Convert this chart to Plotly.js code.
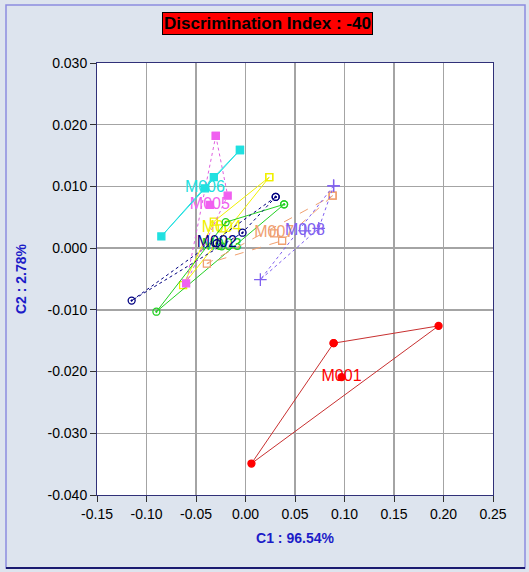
<!DOCTYPE html>
<html>
<head>
<meta charset="utf-8">
<script src="https://cdn.plot.ly/plotly-3.0.1.min.js"></script>
<style>html,body{margin:0;padding:0;background:#dde4ee;}#chart{width:529px;height:572px;}</style>
</head>
<body>
<div id="chart"></div>
<script>
// ---- data ----
const groupNames = ['M001','M002','M003','M004','M005','M006','M007','M008'];
const groupColors = ['#ff0000','#000080','#22d022','#f0f000','#f060f0','#20e0e0','#f0a070','#8060f0'];
const lineColors = ['#c83030','#000080','#22d022','#f0f000','#e060e0','#20e0e0','#f0a070','#8060f0'];
const replicateX = [
  [0.089, 0.195, 0.006],
  [0.0305, -0.115, -0.003],
  [0.039, -0.090, -0.020],
  [0.024, -0.063, -0.032],
  [-0.030, -0.018, -0.060],
  [-0.0056, -0.085, -0.032],
  [0.088, 0.037, -0.039],
  [0.089, 0.015, 0.074]
];
const replicateY = [
  [-0.0154, -0.0126, -0.0349],
  [0.0083, -0.0085, 0.0025],
  [0.0071, -0.0103, 0.0042],
  [0.0115, -0.0060, 0.0043],
  [0.0182, 0.0085, -0.0057],
  [0.0159, 0.0019, 0.0115],
  [0.0085, 0.0012, -0.0025],
  [0.0101, -0.0051, 0.0032]
];
const centroidX = [0.097, -0.029, -0.024, -0.024, -0.036, -0.041, 0.029, 0.060];
const centroidY = [-0.0209, 0.0008, 0.0003, 0.0032, 0.0070, 0.0097, 0.0024, 0.0028];
const markerSymbols = ['circle','circle-open-dot','circle-open-dot','square-open','square','square','square-open','cross-thin-open'];
const lineDash = ['solid','dot','solid','solid','dot','solid','dash','dot'];
const xTicks = [-0.15,-0.10,-0.05,0.00,0.05,0.10,0.15,0.20,0.25];
const yTicks = [0.030,0.020,0.010,0.000,-0.010,-0.020,-0.030,-0.040];
const titleText = 'Discrimination Index : -40';
const xTitle = 'C1 : 96.54%';
const yTitle = 'C2 : 2.78%';

// ---- traces ----
const traces = [];
const order = [0,3,2,1,6,7,4,5];
order.forEach(i => {
  const xs = replicateX[i].concat([replicateX[i][0]]);
  const ys = replicateY[i].concat([replicateY[i][0]]);
  const sym = markerSymbols[i];
  const mk = {symbol: sym, size: sym.indexOf('cross') >= 0 ? 9 : 7, color: groupColors[i],
              line: {color: groupColors[i], width: 1.3}};
  traces.push({
    x: xs, y: ys, type: 'scatter', mode: 'lines+markers',
    line: {color: lineColors[i], width: 1, dash: lineDash[i]},
    marker: mk, hoverinfo: 'skip'
  });
  traces.push({
    x: [centroidX[i]], y: [centroidY[i]], type: 'scatter', mode: 'markers+text',
    text: [groupNames[i]], textposition: 'middle center',
    textfont: {family: 'Liberation Sans, Arial, sans-serif', size: 16, color: groupColors[i]},
    marker: mk, hoverinfo: 'skip'
  });
});

const PL = 97, PR = 493, PT = 63, PB = 495;
const W = PR - PL, H = PB - PT;
const px = v => (v - PL) / W;
const py = v => (PB - v) / H;

const layout = {
  width: 529, height: 572,
  margin: {l: PL, r: 529 - PR, t: PT, b: 572 - PB, pad: 0},
  paper_bgcolor: '#dde4ee', plot_bgcolor: '#ffffff',
  showlegend: false,
  font: {family: 'Liberation Sans, Arial, sans-serif', size: 12, color: '#000'},
  xaxis: {
    range: [-0.15, 0.25], tickvals: xTicks, ticktext: xTicks.map(v => v.toFixed(2)),
    showgrid: true, gridcolor: '#a4a4a4', gridwidth: 1.5, zeroline: false,
    showline: true, linecolor: '#303078', linewidth: 1, mirror: true,
    ticks: 'outside', ticklen: 6, tickcolor: '#303030', tickwidth: 1,
    tickfont: {size: 14, color: '#000'},
    title: {text: xTitle, font: {size: 14, color: '#1c1cc8', family: 'Liberation Sans, Arial, sans-serif', weight: 'bold'}, standoff: 12},
    automargin: false, fixedrange: true
  },
  yaxis: {
    range: [-0.04, 0.03], tickvals: yTicks, ticktext: yTicks.map(v => v.toFixed(3)),
    showgrid: true, gridcolor: '#a4a4a4', gridwidth: 1.5, zeroline: false,
    showline: true, linecolor: '#303078', linewidth: 1, mirror: true,
    ticks: 'outside', ticklen: 6, tickcolor: '#303030', tickwidth: 1,
    tickfont: {size: 14, color: '#000'},
    title: {text: yTitle, font: {size: 14, color: '#1c1cc8', family: 'Liberation Sans, Arial, sans-serif', weight: 'bold'}, standoff: 17},
    automargin: false, fixedrange: true
  },
  shapes: [
    {type: 'rect', xref: 'paper', yref: 'paper', x0: px(6), x1: px(525), y0: py(568), y1: py(5),
     line: {color: '#8c8ce0', width: 1.5}, fillcolor: 'rgba(0,0,0,0)', layer: 'below'},
    {type: 'line', xref: 'paper', yref: 'paper', x0: px(6), x1: px(525), y0: py(568), y1: py(568),
     line: {color: '#1a1a70', width: 2}}
  ],
  annotations: [
    {text: '<b>' + titleText + '</b>', xref: 'paper', yref: 'paper', x: px(267), y: py(23),
     xanchor: 'center', yanchor: 'middle', showarrow: false,
     font: {size: 17, color: '#000', family: 'Liberation Sans, Arial, sans-serif'},
     bgcolor: '#ff0000', bordercolor: '#000', borderwidth: 1, borderpad: 1}
  ]
};

Plotly.newPlot('chart', traces, layout, {displayModeBar: false, staticPlot: true});
</script>
</body>
</html>
